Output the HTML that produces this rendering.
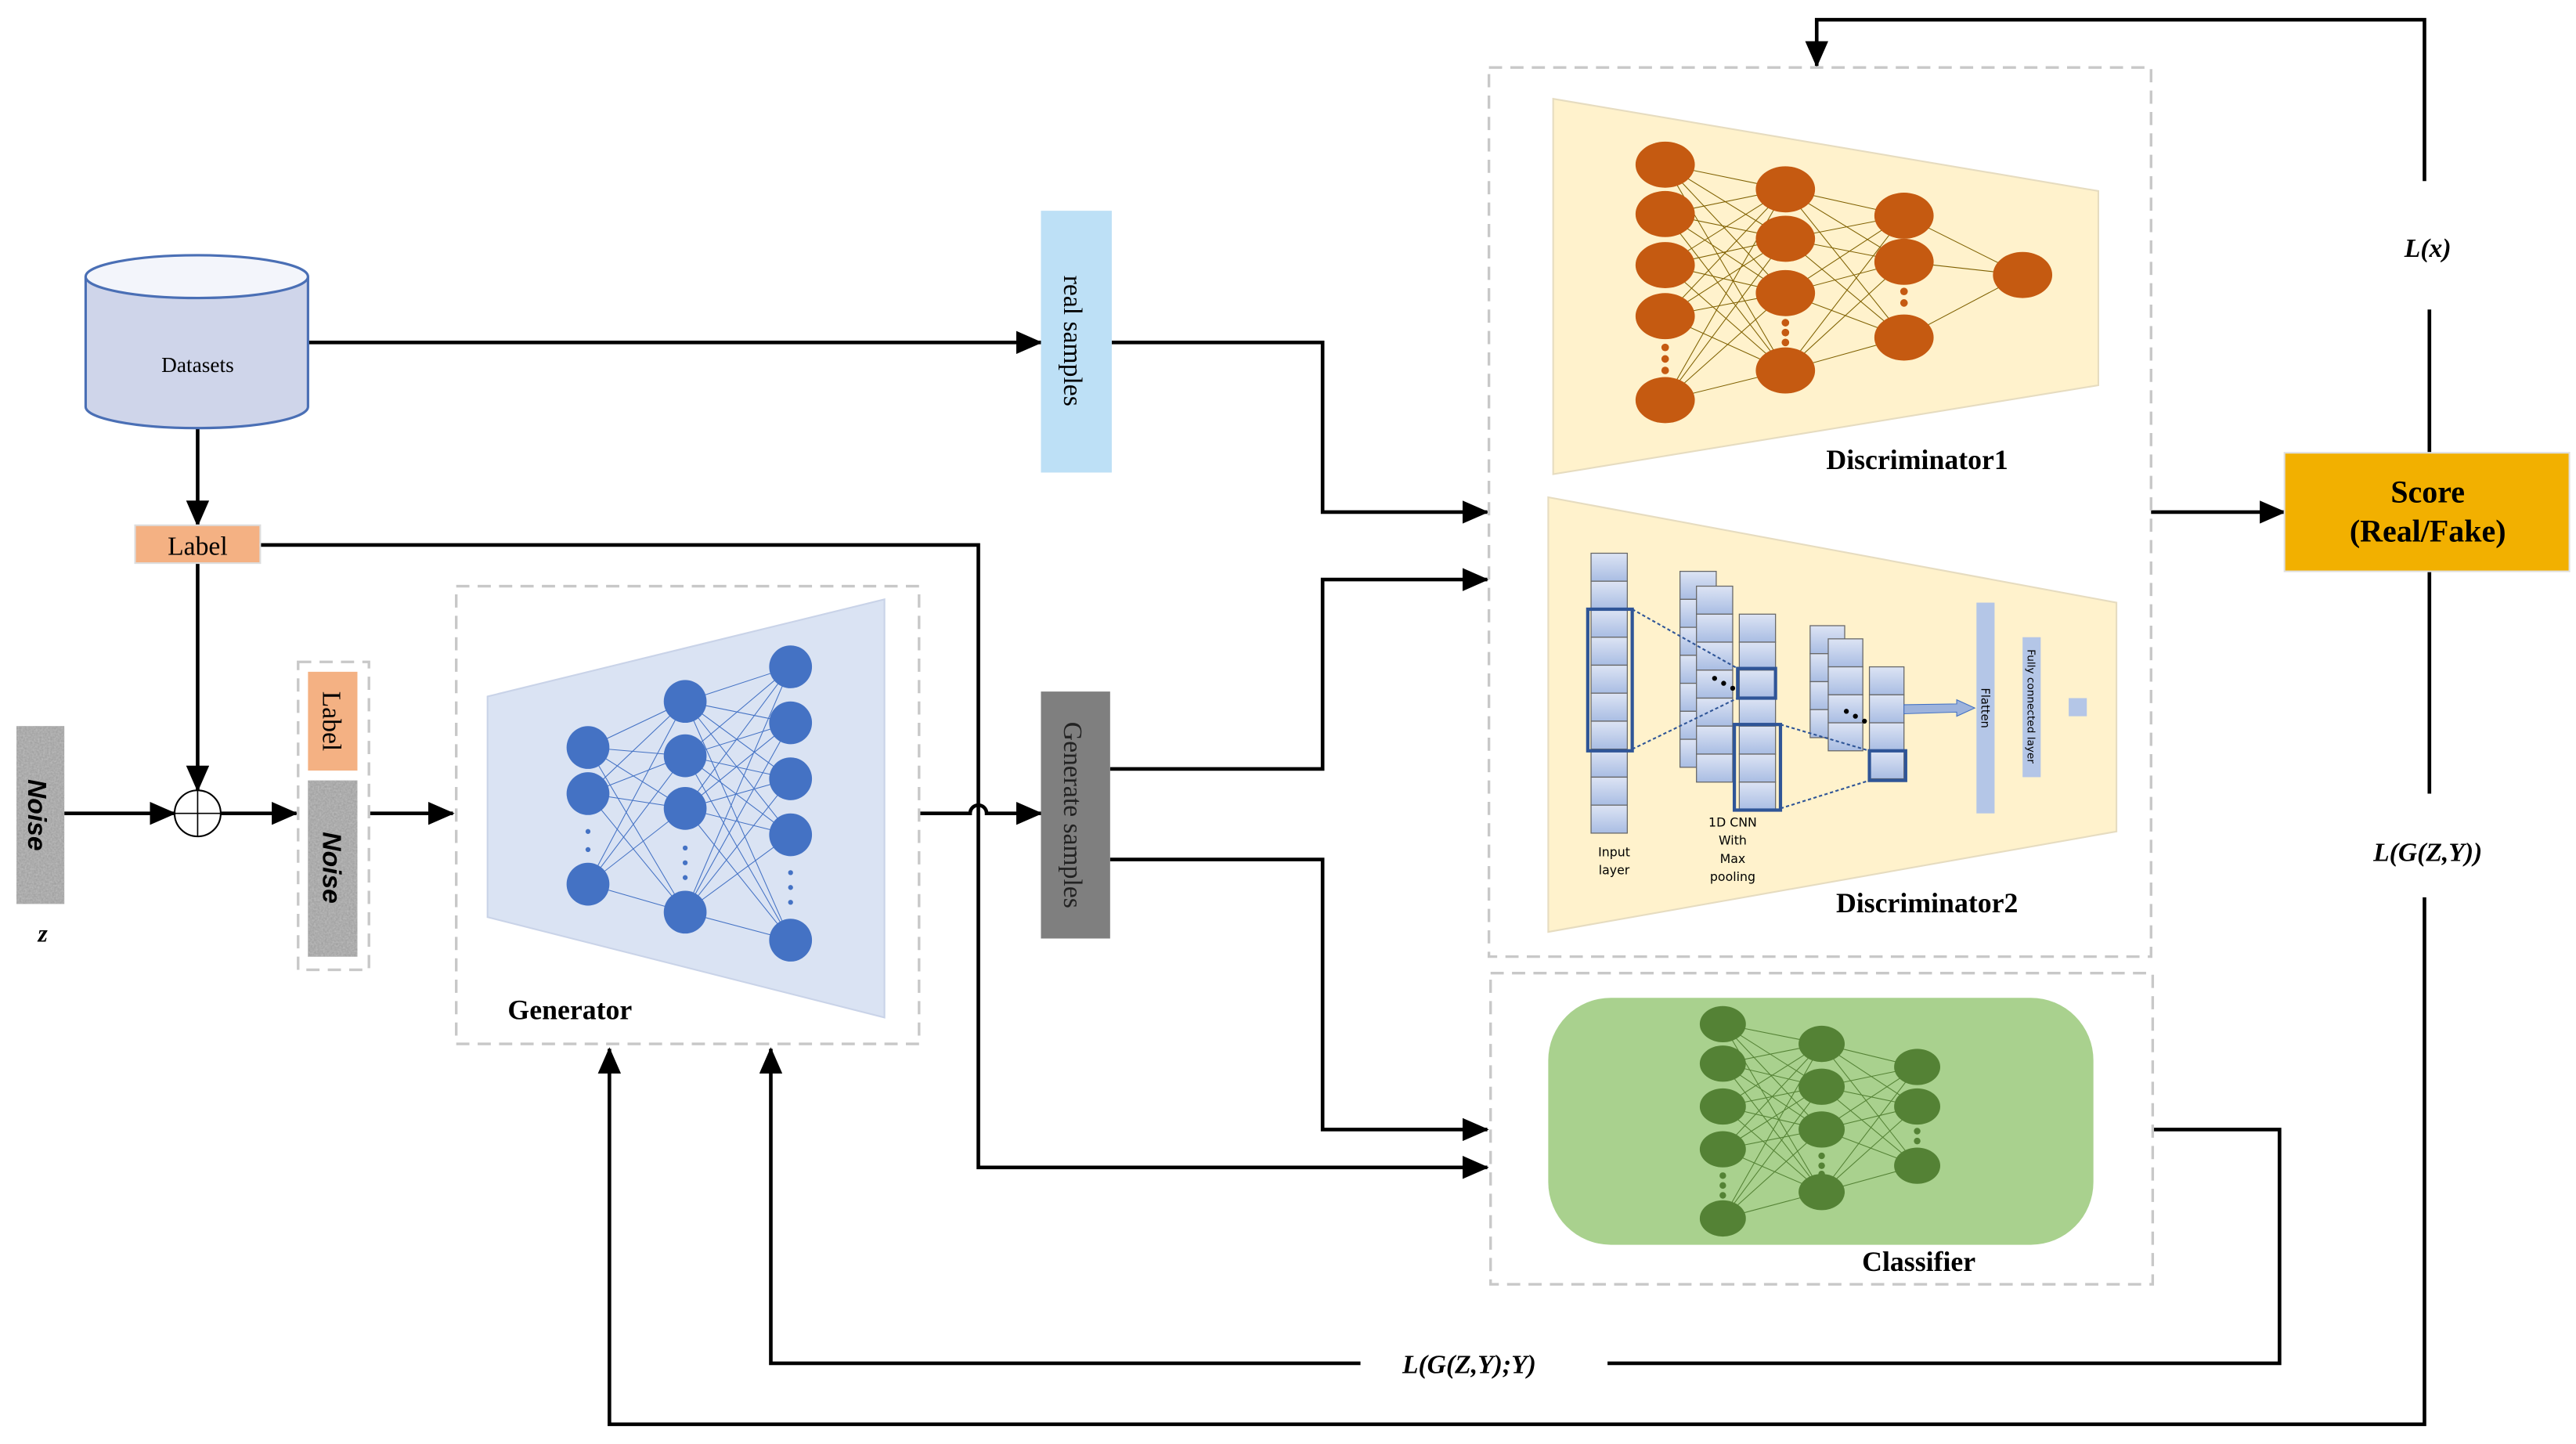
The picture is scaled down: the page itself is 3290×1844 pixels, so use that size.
<!DOCTYPE html>
<html><head><meta charset="utf-8"><style>html,body{margin:0;padding:0;background:#fff}svg{display:block}</style></head><body>
<svg width="3290" height="1844" viewBox="0 0 1564 877" preserveAspectRatio="none" xmlns="http://www.w3.org/2000/svg" font-family="Liberation Serif, serif">
<defs>
<marker id="ar" markerUnits="userSpaceOnUse" markerWidth="16" markerHeight="14" refX="15" refY="7" orient="auto"><path d="M0,0 L16,7 L0,14 Z" fill="#000"/></marker>
<filter id="nz" x="0" y="0" width="100%" height="100%"><feTurbulence type="fractalNoise" baseFrequency="0.9" numOctaves="2" result="t"/><feColorMatrix type="matrix" values="0 0 0 0 0.55  0 0 0 0 0.55  0 0 0 0 0.55  0 0 0 0.9 0"/></filter>
<linearGradient id="cg" x1="0" y1="0" x2="0" y2="1"><stop offset="0" stop-color="#dde4f4"/><stop offset="1" stop-color="#a9bde3"/></linearGradient>
</defs>
<g fill="none" stroke="#000" stroke-width="2.2">
<!-- top loop -->
<polyline points="1472,110 1472,12 1103,12 1103,40" marker-end="url(#ar)"/>
<polyline points="1475,188 1475,275"/>
<polyline points="1475,347 1475,482"/>
<polyline points="1472,545 1472,865 370,865 370,637" marker-end="url(#ar)"/>
<polyline points="976,828 1384,828 1384,686 1307,686"/>
<polyline points="826,828 468,828 468,637" marker-end="url(#ar)"/>
<polyline points="1306,311 1387,311" marker-end="url(#ar)"/>
<polyline points="187,208 632,208" marker-end="url(#ar)"/>
<polyline points="675,208 803,208 803,311 903,311" marker-end="url(#ar)"/>
<polyline points="674,467 803,467 803,352 903,352" marker-end="url(#ar)"/>
<polyline points="674,522 803,522 803,686 903,686" marker-end="url(#ar)"/>
<polyline points="158,331 594,331 594,709 903,709" marker-end="url(#ar)"/>
<polyline points="120,260 120,319" marker-end="url(#ar)"/>
<polyline points="120,342 120,480" marker-end="url(#ar)"/>
<polyline points="39,494 106,494" marker-end="url(#ar)"/>
<polyline points="134,494 180,494" marker-end="url(#ar)"/>
<polyline points="224,494 275,494" marker-end="url(#ar)"/>
<path d="M558,494 L589,494 A5,5 0 0 1 599,494 L632,494" marker-end="url(#ar)"/>
</g>
<!-- dashed boxes -->
<g fill="none" stroke="#c8c8c8" stroke-width="1.6" stroke-dasharray="8,5">
<rect x="904" y="41" width="402" height="540"/>
<rect x="905" y="591" width="402" height="189"/>
<rect x="277" y="356" width="281" height="278"/>
<rect x="181" y="402" width="43" height="187"/>
</g>
<!-- datasets -->
<path d="M52,168 L52,247 A67.5,13 0 0 0 187,247 L187,168" fill="#cfd5ea" stroke="#4a6fb5" stroke-width="1.5"/>
<ellipse cx="119.5" cy="168" rx="67.5" ry="13" fill="#f3f5fb" stroke="#4a6fb5" stroke-width="1.5"/>
<text x="120" y="226" font-size="13" text-anchor="middle">Datasets</text>
<rect x="82" y="319" width="76" height="23" fill="#f4b183" stroke="#ddd"/>
<text x="120" y="337" font-size="16" text-anchor="middle">Label</text>
<circle cx="120" cy="494" r="14" fill="#fff" stroke="#000" stroke-width="1"/>
<line x1="106" y1="494" x2="134" y2="494" stroke="#000" stroke-width="0.8"/>
<line x1="120" y1="480" x2="120" y2="508" stroke="#000" stroke-width="0.8"/>
<!-- noise -->
<rect x="10" y="441" width="29" height="108" fill="#999"/>
<rect x="10" y="441" width="29" height="108" filter="url(#nz)"/>
<text transform="translate(17,495) rotate(90)" font-family="Liberation Sans, sans-serif" font-size="16" font-weight="bold" font-style="italic" text-anchor="middle">Noise</text>
<text x="26" y="572" font-size="15" font-weight="bold" font-style="italic" text-anchor="middle">z</text>
<rect x="187" y="408" width="30" height="60" fill="#f4b183"/>
<text transform="translate(196,438) rotate(90)" font-size="16" text-anchor="middle">Label</text>
<rect x="187" y="474" width="30" height="107" fill="#999"/>
<rect x="187" y="474" width="30" height="107" filter="url(#nz)"/>
<text transform="translate(196,527) rotate(90)" font-family="Liberation Sans, sans-serif" font-size="16" font-weight="bold" font-style="italic" text-anchor="middle">Noise</text>
<!-- samples boxes -->
<rect x="632" y="128" width="43" height="159" fill="#bde0f6"/>
<text transform="translate(646,207) rotate(90)" font-size="16" text-anchor="middle">real samples</text>
<rect x="632" y="420" width="42" height="150" fill="#7f7f7f"/>
<text transform="translate(646,495) rotate(90)" font-size="16" text-anchor="middle" fill="#222">Generate samples</text>
<!-- generator -->
<polygon points="296,423 537,364 537,618 296,557" fill="#dae3f3" stroke="#c9d3e8"/>
<g stroke="#4472c4" stroke-width="0.5">
<path d="M357,454L416,426M357,454L416,459M357,454L416,491M357,454L416,554M357,482L416,426M357,482L416,459M357,482L416,491M357,482L416,554M357,537L416,426M357,537L416,459M357,537L416,491M357,537L416,554"/>
<path d="M416,426L480,405M416,426L480,439M416,426L480,473M416,426L480,507M416,426L480,571M416,459L480,405M416,459L480,439M416,459L480,473M416,459L480,507M416,459L480,571M416,491L480,405M416,491L480,439M416,491L480,473M416,491L480,507M416,491L480,571M416,554L480,405M416,554L480,439M416,554L480,473M416,554L480,507M416,554L480,571"/>
</g>
<g fill="#4472c4">
<circle cx="357" cy="454" r="13"/><circle cx="357" cy="482" r="13"/><circle cx="357" cy="537" r="13"/>
<circle cx="416" cy="426" r="13"/><circle cx="416" cy="459" r="13"/><circle cx="416" cy="491" r="13"/><circle cx="416" cy="554" r="13"/>
<circle cx="480" cy="405" r="13"/><circle cx="480" cy="439" r="13"/><circle cx="480" cy="473" r="13"/><circle cx="480" cy="507" r="13"/><circle cx="480" cy="571" r="13"/>
<circle cx="357" cy="505" r="1.5"/><circle cx="357" cy="516" r="1.5"/>
<circle cx="416" cy="515" r="1.5"/><circle cx="416" cy="524" r="1.5"/><circle cx="416" cy="533" r="1.5"/>
<circle cx="480" cy="530" r="1.5"/><circle cx="480" cy="539" r="1.5"/><circle cx="480" cy="548" r="1.5"/>
</g>
<text x="346" y="619" font-size="17" font-weight="bold" text-anchor="middle">Generator</text>
<!-- discriminator1 -->
<polygon points="943,60 1274,116 1274,234 943,288" fill="#fff2cc" stroke="#e6dcc0"/>
<g stroke="#7f6000" stroke-width="0.5">
<path d="M1011,100L1084,115M1011,100L1084,145M1011,100L1084,178M1011,100L1084,225M1011,130L1084,115M1011,130L1084,145M1011,130L1084,178M1011,130L1084,225M1011,161L1084,115M1011,161L1084,145M1011,161L1084,178M1011,161L1084,225M1011,192L1084,115M1011,192L1084,145M1011,192L1084,178M1011,192L1084,225M1011,243L1084,115M1011,243L1084,145M1011,243L1084,178M1011,243L1084,225"/>
<path d="M1084,115L1156,131M1084,115L1156,159M1084,115L1156,205M1084,145L1156,131M1084,145L1156,159M1084,145L1156,205M1084,178L1156,131M1084,178L1156,159M1084,178L1156,205M1084,225L1156,131M1084,225L1156,159M1084,225L1156,205M1156,131L1228,167M1156,159L1228,167M1156,205L1228,167"/>
</g>
<g fill="#c55a11">
<ellipse cx="1011" cy="100" rx="18" ry="14"/><ellipse cx="1011" cy="130" rx="18" ry="14"/><ellipse cx="1011" cy="161" rx="18" ry="14"/><ellipse cx="1011" cy="192" rx="18" ry="14"/><ellipse cx="1011" cy="243" rx="18" ry="14"/>
<ellipse cx="1084" cy="115" rx="18" ry="14"/><ellipse cx="1084" cy="145" rx="18" ry="14"/><ellipse cx="1084" cy="178" rx="18" ry="14"/><ellipse cx="1084" cy="225" rx="18" ry="14"/>
<ellipse cx="1156" cy="131" rx="18" ry="14"/><ellipse cx="1156" cy="159" rx="18" ry="14"/><ellipse cx="1156" cy="205" rx="18" ry="14"/>
<ellipse cx="1228" cy="167" rx="18" ry="14"/>
<circle cx="1011" cy="211" r="2.3"/><circle cx="1011" cy="218" r="2.3"/><circle cx="1011" cy="225" r="2.3"/>
<circle cx="1084" cy="196" r="2.3"/><circle cx="1084" cy="202" r="2.3"/><circle cx="1084" cy="208" r="2.3"/>
<circle cx="1156" cy="177" r="2.3"/><circle cx="1156" cy="184" r="2.3"/>
</g>
<text x="1164" y="285" font-size="17" font-weight="bold" text-anchor="middle">Discriminator1</text>
<!-- discriminator2 -->
<polygon points="940,302 1285,366 1285,505 940,566" fill="#fff2cc" stroke="#e6dcc0"/>
<g stroke="#666" stroke-width="0.6" fill="url(#cg)">
<g id="c10"><rect x="966" y="336" width="22" height="17"/><rect x="966" y="353" width="22" height="17"/><rect x="966" y="370" width="22" height="17"/><rect x="966" y="387" width="22" height="17"/><rect x="966" y="404" width="22" height="17"/><rect x="966" y="421" width="22" height="17"/><rect x="966" y="438" width="22" height="17"/><rect x="966" y="455" width="22" height="17"/><rect x="966" y="472" width="22" height="17"/><rect x="966" y="489" width="22" height="17"/></g>
<rect x="1020" y="347" width="22" height="17"/><rect x="1020" y="364" width="22" height="17"/><rect x="1020" y="381" width="22" height="17"/><rect x="1020" y="398" width="22" height="17"/><rect x="1020" y="415" width="22" height="17"/><rect x="1020" y="432" width="22" height="17"/><rect x="1020" y="449" width="22" height="17"/>
<rect x="1030" y="356" width="22" height="17"/><rect x="1030" y="373" width="22" height="17"/><rect x="1030" y="390" width="22" height="17"/><rect x="1030" y="407" width="22" height="17"/><rect x="1030" y="424" width="22" height="17"/><rect x="1030" y="441" width="22" height="17"/><rect x="1030" y="458" width="22" height="17"/>
<rect x="1056" y="373" width="22" height="17"/><rect x="1056" y="390" width="22" height="17"/><rect x="1056" y="407" width="22" height="17"/><rect x="1056" y="424" width="22" height="17"/><rect x="1056" y="441" width="22" height="17"/><rect x="1056" y="458" width="22" height="17"/><rect x="1056" y="475" width="22" height="17"/>
<rect x="1099" y="380" width="21" height="17"/><rect x="1099" y="397" width="21" height="17"/><rect x="1099" y="414" width="21" height="17"/><rect x="1099" y="431" width="21" height="17"/>
<rect x="1110" y="388" width="21" height="17"/><rect x="1110" y="405" width="21" height="17"/><rect x="1110" y="422" width="21" height="17"/><rect x="1110" y="439" width="21" height="17"/>
<rect x="1135" y="405" width="21" height="17"/><rect x="1135" y="422" width="21" height="17"/><rect x="1135" y="439" width="21" height="17"/><rect x="1135" y="456" width="21" height="17"/>
</g>
<g fill="none" stroke="#2f5597" stroke-width="2">
<rect x="964" y="370" width="27" height="86"/>
<rect x="1055" y="406" width="23" height="18"/>
<rect x="1053" y="440" width="28" height="52"/>
<rect x="1135" y="456" width="22" height="18"/>
</g>
<g stroke="#2f5597" stroke-width="1" stroke-dasharray="2,1.5">
<line x1="991" y1="370" x2="1055" y2="406"/><line x1="991" y1="455" x2="1055" y2="424"/>
<line x1="1081" y1="440" x2="1135" y2="456"/><line x1="1081" y1="491" x2="1135" y2="474"/>
</g>
<g fill="#000"><circle cx="1041" cy="412" r="1.5"/><circle cx="1046.5" cy="415" r="1.5"/><circle cx="1052" cy="418" r="1.5"/><circle cx="1121" cy="432" r="1.5"/><circle cx="1126.5" cy="435" r="1.5"/><circle cx="1132" cy="438" r="1.5"/></g>
<polygon points="1156,428 1188,427.5 1188,425 1199,430 1188,435 1188,432.5 1156,433.5" fill="#9db3dc" stroke="#4472c4" stroke-width="0.5"/>
<rect x="1200" y="366" width="11" height="128" fill="#b4c6e7"/>
<text transform="translate(1203,430) rotate(90)" font-family="DejaVu Sans, sans-serif" font-size="7" text-anchor="middle">Flatten</text>
<rect x="1228" y="387" width="11" height="85" fill="#b4c6e7"/>
<text transform="translate(1231,429) rotate(90)" font-family="DejaVu Sans, sans-serif" font-size="6.5" text-anchor="middle">Fully connected layer</text>
<rect x="1256" y="424" width="11" height="11" fill="#b4c6e7"/>
<g font-family="DejaVu Sans, sans-serif" font-size="7.5" text-anchor="middle">
<text x="980" y="520">Input</text><text x="980" y="531">layer</text>
<text x="1052" y="502">1D CNN</text><text x="1052" y="513">With</text><text x="1052" y="524">Max</text><text x="1052" y="535">pooling</text>
</g>
<text x="1170" y="554" font-size="17" font-weight="bold" text-anchor="middle">Discriminator2</text>
<!-- classifier -->
<rect x="940" y="606" width="331" height="150" rx="38" fill="#a9d18e"/>
<g stroke="#548235" stroke-width="0.5">
<path d="M1046,622L1106,634M1046,622L1106,660M1046,622L1106,686M1046,622L1106,724M1046,646L1106,634M1046,646L1106,660M1046,646L1106,686M1046,646L1106,724M1046,672L1106,634M1046,672L1106,660M1046,672L1106,686M1046,672L1106,724M1046,698L1106,634M1046,698L1106,660M1046,698L1106,686M1046,698L1106,724M1046,740L1106,634M1046,740L1106,660M1046,740L1106,686M1046,740L1106,724"/>
<path d="M1106,634L1164,648M1106,634L1164,672M1106,634L1164,708M1106,660L1164,648M1106,660L1164,672M1106,660L1164,708M1106,686L1164,648M1106,686L1164,672M1106,686L1164,708M1106,724L1164,648M1106,724L1164,672M1106,724L1164,708"/>
</g>
<g fill="#548235">
<ellipse cx="1046" cy="622" rx="14" ry="11"/><ellipse cx="1046" cy="646" rx="14" ry="11"/><ellipse cx="1046" cy="672" rx="14" ry="11"/><ellipse cx="1046" cy="698" rx="14" ry="11"/><ellipse cx="1046" cy="740" rx="14" ry="11"/>
<ellipse cx="1106" cy="634" rx="14" ry="11"/><ellipse cx="1106" cy="660" rx="14" ry="11"/><ellipse cx="1106" cy="686" rx="14" ry="11"/><ellipse cx="1106" cy="724" rx="14" ry="11"/>
<ellipse cx="1164" cy="648" rx="14" ry="11"/><ellipse cx="1164" cy="672" rx="14" ry="11"/><ellipse cx="1164" cy="708" rx="14" ry="11"/>
<circle cx="1046" cy="714" r="2"/><circle cx="1046" cy="720" r="2"/><circle cx="1046" cy="726" r="2"/>
<circle cx="1106" cy="702" r="2"/><circle cx="1106" cy="708" r="2"/><circle cx="1106" cy="713" r="2"/>
<circle cx="1164" cy="687" r="2"/><circle cx="1164" cy="693" r="2"/>
</g>
<text x="1165" y="772" font-size="17" font-weight="bold" text-anchor="middle">Classifier</text>
<!-- score -->
<rect x="1387" y="275" width="173" height="72" fill="#f2b000" stroke="#e0e0e0"/>
<text x="1474" y="305" font-size="19" font-weight="bold" text-anchor="middle">Score</text>
<text x="1474" y="329" font-size="19" font-weight="bold" text-anchor="middle">(Real/Fake)</text>
<g font-size="16" font-weight="bold" font-style="italic" text-anchor="middle">
<text x="1474" y="156">L(x)</text>
<text x="1474" y="523">L(G(Z,Y))</text>
<text x="892" y="834">L(G(Z,Y);Y)</text>
</g>
</svg>
</body></html>
